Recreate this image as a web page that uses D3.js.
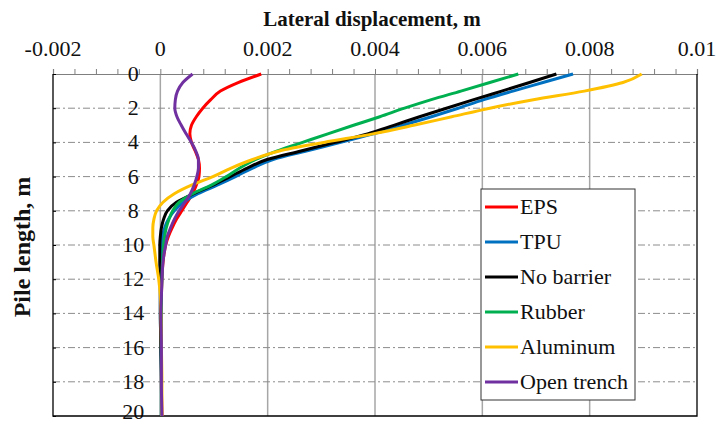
<!DOCTYPE html>
<html>
<head>
<meta charset="utf-8">
<script src="https://cdn.jsdelivr.net/npm/d3@7"></script>
<style>
  body { margin: 0; background: #fff; }
  svg { display: block; }
</style>
</head>
<body>
<svg id="chart" width="716" height="425"></svg>
<script>
// Depth along the pile (m)
const depth = [0, 0.5, 1, 1.5, 2, 2.5, 3, 3.5, 4, 4.5, 5, 5.5, 6, 6.5, 7, 7.5, 8, 8.5, 9, 9.5, 10, 10.5, 11, 12, 13, 14, 16, 18, 20];

// Lateral displacement (m) for each barrier case, one value per depth
const eps        = [0.00188, 0.00145, 0.00112, 0.00094, 0.00079, 0.00067, 0.00058, 0.00055, 0.00058, 0.00065, 0.00071, 0.00073, 0.00072, 0.00067, 0.00060, 0.00050, 0.00040, 0.00030, 0.00022, 0.00015, 0.00010, 0.00007, 0.00005, 0.00003, 0.00002, 0.00001, 0.00002, 0.00002, 0.00003];
const tpu        = [0.00769, 0.00713, 0.00657, 0.00603, 0.00555, 0.00505, 0.00452, 0.00397, 0.00336, 0.00272, 0.00210, 0.00172, 0.00140, 0.00106, 0.00070, 0.00043, 0.00026, 0.00015, 0.00008, 0.00004, 0.00002, 0.00001, 0.00000, 0.00000, 0.00000, 0.00000, 0.00001, 0.00002, 0.00002];
const noBarrier  = [0.00738, 0.00688, 0.00636, 0.00584, 0.00533, 0.00483, 0.00435, 0.00386, 0.00326, 0.00262, 0.00199, 0.00162, 0.00130, 0.00098, 0.00062, 0.00030, 0.00013, 0.00006, 0.00002, 0.00000, -0.00001, -0.00001, -0.00001, 0.00000, 0.00000, 0.00000, 0.00001, 0.00002, 0.00002];
const rubber     = [0.00667, 0.00614, 0.00560, 0.00505, 0.00455, 0.00409, 0.00360, 0.00312, 0.00265, 0.00218, 0.00178, 0.00148, 0.00123, 0.00095, 0.00060, 0.00035, 0.00023, 0.00016, 0.00011, 0.00008, 0.00006, 0.00005, 0.00004, 0.00003, 0.00002, 0.00002, 0.00002, 0.00002, 0.00002];
const aluminum   = [0.00897, 0.00862, 0.00790, 0.00695, 0.00614, 0.00543, 0.00472, 0.00396, 0.00305, 0.00222, 0.00172, 0.00132, 0.00098, 0.00058, 0.00026, 0.00005, -0.00007, -0.00012, -0.00014, -0.00014, -0.00012, -0.00010, -0.00008, -0.00003, 0.00000, 0.00001, 0.00002, 0.00003, 0.00003];
const openTrench = [0.00060, 0.00042, 0.00032, 0.00028, 0.00027, 0.00031, 0.00039, 0.00048, 0.00058, 0.00066, 0.00071, 0.00071, 0.00068, 0.00063, 0.00056, 0.00046, 0.00035, 0.00026, 0.00019, 0.00013, 0.00010, 0.00007, 0.00005, 0.00003, 0.00002, 0.00001, 0.00002, 0.00002, 0.00003];

const seriesNames  = ["EPS", "TPU", "No barrier", "Rubber", "Aluminum", "Open trench"];
const seriesValues = [eps, tpu, noBarrier, rubber, aluminum, openTrench];
const seriesColors = ["#ff0000", "#0070c0", "#000000", "#00b050", "#ffc000", "#7030a0"];

// Axis ticks
const xTicks      = [-0.002, 0, 0.002, 0.004, 0.006, 0.008, 0.01];
const xTickLabels = ["-0.002", "0", "0.002", "0.004", "0.006", "0.008", "0.01"];
const xMinorTicks = d3.range(0, 31).map(i => -0.002 + i * 0.0004);
const yTicks      = [0, 2, 4, 6, 8, 10, 12, 14, 16, 18, 20];
const yTickLabels = ["0", "2", "4", "6", "8", "10", "12", "14", "16", "18", "20"];

const xTitle = "Lateral displacement, m";
const yTitle = "Pile length, m";

const serif = "Liberation Serif";
const svg = d3.select("#chart");
const plot = { left: 53, right: 697, top: 74, bottom: 416 };

const x = d3.scaleLinear().domain([-0.002, 0.01]).range([plot.left, plot.right]);
const y = d3.scaleLinear().domain([0, 20]).range([plot.top, plot.bottom]);

// Vertical grid lines at the major displacement ticks
svg.append("g")
  .selectAll("line")
  .data(xTicks.slice(1, -1))
  .join("line")
  .attr("x1", d => x(d)).attr("x2", d => x(d))
  .attr("y1", plot.top).attr("y2", plot.bottom)
  .attr("stroke", "#a6a6a6").attr("stroke-width", 1.5);

// Horizontal dash-dot grid lines
svg.append("g")
  .selectAll("line")
  .data(yTicks.slice(1, -1))
  .join("line")
  .attr("x1", plot.left).attr("x2", plot.right)
  .attr("y1", d => y(d)).attr("y2", d => y(d))
  .attr("stroke", "#8c8c8c").attr("stroke-width", 1)
  .attr("stroke-dasharray", "7,3,2,3");

// Top axis: minor and major ticks pointing outward
const topAxis = svg.append("g").attr("transform", `translate(0,${plot.top})`);
topAxis.call(d3.axisTop(x).tickValues(xMinorTicks).tickSize(5).tickFormat(""));
topAxis.select(".domain").attr("stroke", "#7f7f7f").attr("stroke-width", 1.2);
topAxis.selectAll(".tick line").attr("stroke", "#7f7f7f");

// Top axis labels
svg.append("g")
  .selectAll("text")
  .data(xTicks)
  .join("text")
  .attr("x", d => x(d))
  .attr("y", 56)
  .attr("text-anchor", "middle")
  .attr("font-family", serif)
  .attr("font-size", 22)
  .attr("fill", "#111")
  .text((d, i) => xTickLabels[i]);

// Left frame ticks pointing inward
const leftAxis = svg.append("g").attr("transform", `translate(${plot.left},0)`);
leftAxis.call(d3.axisRight(y).tickValues(yTicks).tickSize(3).tickFormat(""));
leftAxis.select(".domain").remove();
leftAxis.selectAll(".tick line").attr("stroke", "#000");

// Depth labels, set beside the zero line (the last one kept inside the canvas)
svg.append("g")
  .selectAll("text")
  .data(yTicks)
  .join("text")
  .attr("x", x(0) - 27)
  .attr("y", d => Math.min(y(d) + 7, 419))
  .attr("text-anchor", "middle")
  .attr("font-family", serif)
  .attr("font-size", 22)
  .attr("fill", "#111")
  .text((d, i) => yTickLabels[i]);

// Plot frame (left, bottom, right)
svg.append("path")
  .attr("d", `M${plot.left},${plot.top}V${plot.bottom}H${plot.right}V${plot.top}`)
  .attr("fill", "none").attr("stroke", "#000").attr("stroke-width", 1.3);

// Displacement profiles
const line = d3.line()
  .x(d => x(d[1]))
  .y(d => y(d[0]))
  .curve(d3.curveMonotoneY);

svg.append("g")
  .selectAll("path")
  .data(seriesValues.map((vals, i) => ({ i, pts: depth.map((dd, k) => [dd, vals[k]]) })))
  .join("path")
  .attr("d", s => line(s.pts))
  .attr("fill", "none")
  .attr("stroke", s => seriesColors[s.i])
  .attr("stroke-width", 3)
  .attr("stroke-linejoin", "round");

// Legend
const legend = svg.append("g");
legend.append("rect")
  .attr("x", 481).attr("y", 189).attr("width", 154).attr("height", 211)
  .attr("fill", "#fff").attr("stroke", "#333").attr("stroke-width", 1);
const items = legend.selectAll("g.item")
  .data(seriesNames)
  .join("g")
  .attr("class", "item")
  .attr("transform", (d, i) => `translate(485,${207 + i * 35})`);
items.append("line")
  .attr("x1", 0).attr("x2", 33).attr("y1", 0).attr("y2", 0)
  .attr("stroke", (d, i) => seriesColors[i]).attr("stroke-width", 3);
items.append("text")
  .attr("x", 35).attr("y", 7)
  .attr("font-family", serif)
  .attr("font-size", 22)
  .attr("fill", "#111")
  .text(d => d);

// Axis titles
svg.append("text")
  .attr("x", 372).attr("y", 26)
  .attr("text-anchor", "middle")
  .attr("font-family", serif)
  .attr("font-size", 21)
  .attr("font-weight", "bold")
  .attr("fill", "#111")
  .text(xTitle);

svg.append("text")
  .attr("transform", "translate(30,247) rotate(-90)")
  .attr("text-anchor", "middle")
  .attr("font-family", serif)
  .attr("font-size", 24)
  .attr("font-weight", "bold")
  .attr("fill", "#111")
  .text(yTitle);
</script>
</body>
</html>
